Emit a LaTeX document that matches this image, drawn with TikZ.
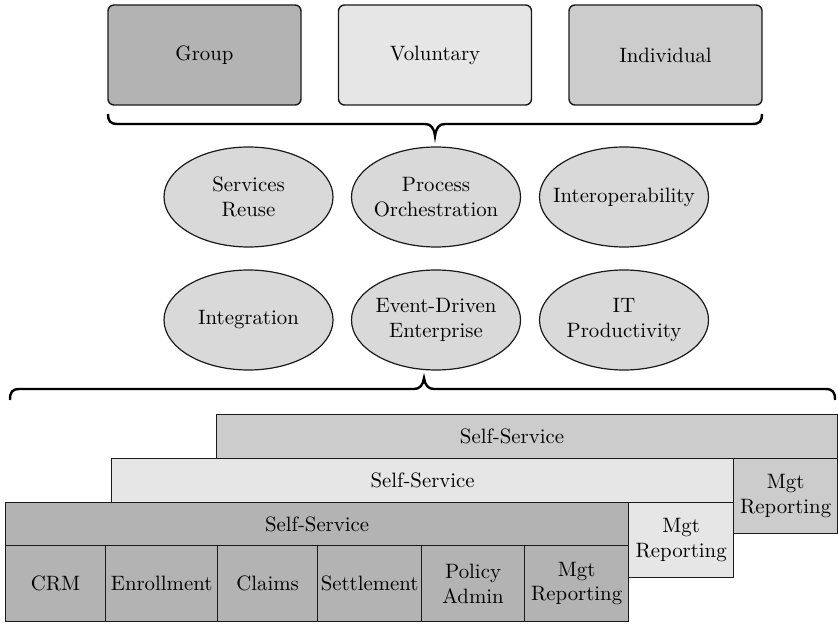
\documentclass[tikz,border=0pt]{standalone}
\usetikzlibrary{shapes.geometric}
\definecolor{gA}{HTML}{B3B3B3}
\definecolor{gB}{HTML}{E6E6E6}
\definecolor{gC}{HTML}{CCCCCC}
\definecolor{gE}{HTML}{D9D9D9}
\definecolor{edge}{HTML}{1A1A1A}
\begin{document}
\begin{tikzpicture}[x=0.5pt,y=-0.5pt,
  every node/.style={font=\fontsize{10.4}{12.3}\selectfont, align=center, text=black},
  topbox/.style={draw=edge, line width=0.7pt, rounded corners=3pt, minimum width=96.5pt, minimum height=50pt, inner sep=0pt},
  oval/.style={ellipse, draw=edge, line width=0.6pt, fill=gE, minimum width=84.5pt, minimum height=50pt, inner sep=0pt},
  cell/.style={draw=edge, line width=0.6pt, anchor=north west, inner sep=0pt},
  brace/.style={draw=black, line width=1.2pt}
]
\useasboundingbox (0,0) rectangle (838,624);

% top boxes
\node[topbox, fill=gA] (group) at (204.5,55) {Group};
\node[topbox, fill=gB] (vol) at (435,55) {Voluntary};
\node[topbox, fill=gC] (ind) at (665.5,55) {Individual};

% top brace
\coordinate (tl) at (108,114);
\coordinate (tr) at (762,114);
\coordinate (tt) at (435,136);
\draw[brace] (tl) .. controls (108,121) and (110,124) .. (118,124) -- (425,124)
  .. controls (431,124) and (434,128) .. (tt)
  .. controls (436,128) and (439,124) .. (445,124) -- (752,124)
  .. controls (760,124) and (762,121) .. (tr);

% ellipses
\node[oval] (e1) at (248.5,197) {};
\node[oval] (e2) at (436,197) {};
\node[oval] (e3) at (624,197) {};
\node[oval] (e4) at (248.5,320) {};
\node[oval] (e5) at (436,320) {};
\node[oval] (e6) at (624,320) {};
\node (t1) at (e1) {Services\\Reuse};
\node (t2) at (e2) {Process\\Orchestration};
\node (t3) at (e3) {Interoperability};
\node (t4) at (e4) {Integration};
\node (t5) at (e5) {Event-Driven\\Enterprise};
\node (t6) at (e6) {IT\\Productivity};

% bottom brace
\coordinate (bl) at (10,400);
\coordinate (br) at (835,400);
\coordinate (bt) at (424,378);
\draw[brace] (bl) .. controls (10,392) and (12,389) .. (20,389) -- (414,389)
  .. controls (420,389) and (423,385) .. (bt)
  .. controls (425,385) and (428,389) .. (434,389) -- (825,389)
  .. controls (833,389) and (835,392) .. (br);

% back layer
\node[cell, fill=gC, minimum width=310.5pt, minimum height=22pt] (bss) at (216,414) {};
\node (bsst) at (512,436) {Self-Service};
\node[cell, fill=gC, minimum width=52pt, minimum height=37.5pt] (bmgt) at (733,458) {Mgt\\Reporting};

% middle layer
\node[cell, fill=gB, minimum width=311pt, minimum height=22pt] (mss) at (111,458) {Self-Service};
\node[cell, fill=gB, minimum width=52.5pt, minimum height=37.5pt] (mmgt) at (628,502) {Mgt\\Reporting};

% front layer
\node[cell, fill=gA, minimum width=311.5pt, minimum height=21.5pt] (fss) at (5,502) {Self-Service};
\node[cell, fill=gA, minimum width=50pt, minimum height=38pt] (crm) at (5,545) {CRM};
\node[cell, fill=gA, minimum width=56pt, minimum height=38pt] (enr) at (105,545) {Enrollment};
\node[cell, fill=gA, minimum width=50pt, minimum height=38pt] (clm) at (217,545) {Claims};
\node[cell, fill=gA, minimum width=52pt, minimum height=38pt] (set) at (317,545) {Settlement};
\node[cell, fill=gA, minimum width=51.5pt, minimum height=38pt] (pol) at (421,545) {Policy\\Admin};
\node[cell, fill=gA, minimum width=52pt, minimum height=38pt] (fmgt) at (524,545) {Mgt\\Reporting};
\end{tikzpicture}
\end{document}
